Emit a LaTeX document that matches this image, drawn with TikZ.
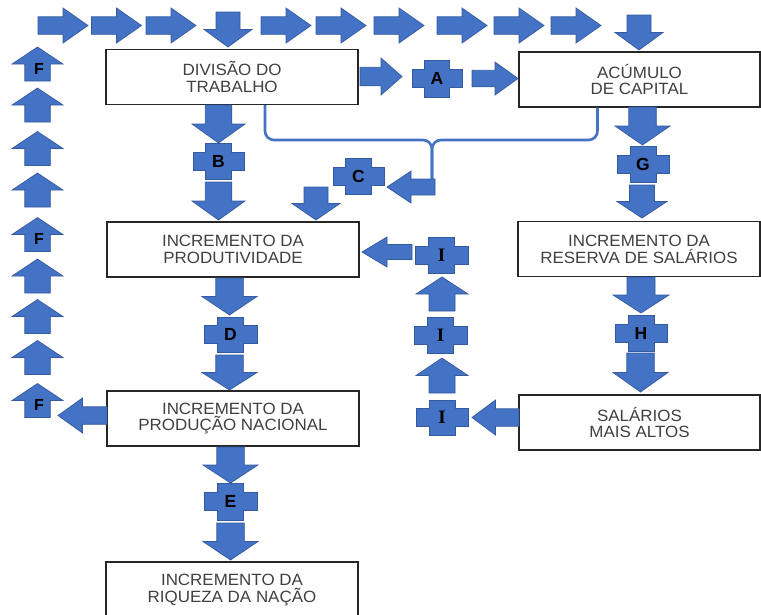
\documentclass[tikz,border=0pt]{standalone}
\usepackage{fontspec}
\setmainfont{Liberation Sans}
\newfontfamily\boxfont[FakeStretch=1.04]{Liberation Sans}
\newfontfamily\serifletter{Liberation Serif}
\usetikzlibrary{positioning, calc}
\definecolor{arrowblue}{RGB}{68,114,196}
\definecolor{arrowedge}{RGB}{52,90,160}
\definecolor{textgray}{RGB}{64,64,64}

\begin{document}
\begin{tikzpicture}[x=1pt, y=-1pt,
        box/.style={rectangle, draw=black!85, line width=1.3pt, fill=white, minimum width=252pt, minimum height=55pt, inner sep=0pt, align=center, text=textgray, font=\boxfont\fontsize{16.3}{16.8}\selectfont},
        letter/.style={inner sep=0pt, text=black, font=\bfseries\fontsize{17.5}{17.5}\selectfont},
        fletter/.style={inner sep=0pt, text=black, font=\bfseries\fontsize{16}{16}\selectfont},
        bracket/.style={draw=arrowblue, line width=2.6pt, rounded corners=9pt},
        pics/barrow/.style 2 args={code={
            \filldraw[fill=arrowblue, draw=arrowedge, line width=0.7pt]
                (-#1/2,-#2/4) -- (0,-#2/4) -- (0,-#2/2) -- (#1/2,0) -- (0,#2/2) -- (0,#2/4) -- (-#1/2,#2/4) -- cycle;
            \coordinate (-tail) at (-#1/2,0);
        }},
        pics/plus/.style n args={3}{code={
            \filldraw[fill=arrowblue, draw=arrowedge, line width=0.7pt]
                (-#1/2,-#2/4) -- (-#1/4,-#2/4) -- (-#1/4,-#2/2) -- (#1/4,-#2/2) -- (#1/4,-#2/4) -- (#1/2,-#2/4)
                -- (#1/2,#2/4) -- (#1/4,#2/4) -- (#1/4,#2/2) -- (-#1/4,#2/2) -- (-#1/4,#2/4) -- (-#1/2,#2/4) -- cycle;
            \node[letter] (-lbl) {#3};
        }}
    ]
        \clip (0,0) rectangle (761,614);

        \node[box] (div) at (232,77) {DIVISÃO DO\\TRABALHO};
        \node[box, minimum width=241pt] (acu) at (639.5,79.5) {ACÚMULO\\DE CAPITAL};
        \node[box] (prod) at (233,249.5) {INCREMENTO DA\\PRODUTIVIDADE};
        \node[box, minimum width=242pt] (res) at (639,249) {INCREMENTO DA\\RESERVA DE SALÁRIOS};
        \node[box] (pnac) at (233,418.5) {INCREMENTO DA\\PRODUÇÃO NACIONAL};
        \node[box, minimum width=241pt] (sal) at (639.5,422.5) {SALÁRIOS\\MAIS ALTOS};
        \node[box, minimum height=56pt] (riq) at (232,590) {INCREMENTO DA\\RIQUEZA DA NAÇÃO};

        \pic (t1) at (63,25.5) {barrow={50}{35}};
        \pic (t2) at (116.5,25.5) {barrow={50}{35}};
        \pic (t3) at (171,25.5) {barrow={50}{35}};
        \pic[rotate=-90] (t4) at (228,29.5) {barrow={35}{48}};
        \pic (t5) at (286,25.5) {barrow={50}{35}};
        \pic (t6) at (341,25.5) {barrow={50}{35}};
        \pic (t7) at (399,25.5) {barrow={50}{35}};
        \pic (t8) at (462,25.5) {barrow={50}{35}};
        \pic (t9) at (519,25.5) {barrow={50}{35}};
        \pic (t10) at (576,25.5) {barrow={50}{35}};
        \pic[rotate=-90] (t11) at (639,32.5) {barrow={35}{48}};

        \pic[rotate=90] (f1) at (37.5,64) {barrow={34}{51}};
        \pic[rotate=90] (f2) at (37.5,105) {barrow={34}{51}};
        \pic[rotate=90] (f3) at (37.5,148.5) {barrow={34}{51}};
        \pic[rotate=90] (f4) at (37.5,190) {barrow={34}{51}};
        \pic[rotate=90] (f5) at (37.5,234.5) {barrow={34}{51}};
        \pic[rotate=90] (f6) at (37.5,276) {barrow={34}{51}};
        \pic[rotate=90] (f7) at (37.5,316.5) {barrow={34}{51}};
        \pic[rotate=90] (f8) at (37.5,357.5) {barrow={34}{51}};
        \pic[rotate=90] (f9) at (37.5,400.5) {barrow={34}{51}};
        \node[fletter] (fa) at (39,68.5) {F};
        \node[fletter] (fb) at (39,238.5) {F};
        \node[fletter] (fc) at (39,404.5) {F};
        \pic[rotate=180] (pf) at (82.5,415.5) {barrow={49}{35}};

        \pic (a1) at (381,76.5) {barrow={42}{37}};
        \pic (pa) at (437,78.5) {plus={50}{37}{A}};
        \pic (a2) at (495,78.5) {barrow={46}{33}};

        \pic[rotate=-90] (b1) at (218.5,124) {barrow={38}{53}};
        \pic (pb) at (218.5,161) {plus={51}{36}{B}};
        \pic[rotate=-90] (b2) at (218.5,201) {barrow={38}{53}};

        \coordinate (brtip) at (432,140);
        \draw[bracket] ([xshift=33pt]div.south) |- (brtip) -- (432,185);
        \draw[bracket] ([xshift=-42pt]acu.south) |- (brtip) -- (432,185);
        \pic[rotate=180] (c1) at (411,187) {barrow={48}{32}};
        \pic (pc) at (358.5,176) {plus={51}{36}{C}};
        \pic[rotate=-90] (c2) at (316,203.5) {barrow={33}{48}};

        \pic[rotate=-90] (d1) at (229.5,296.5) {barrow={37}{55}};
        \pic (pd) at (230.5,334.5) {plus={53}{35}{D}};
        \pic[rotate=-90] (d2) at (229.5,372.5) {barrow={35}{55}};

        \pic[rotate=-90] (e1) at (230.5,465) {barrow={36}{55}};
        \pic (pe) at (230.5,501.5) {plus={53}{37}{E}};
        \pic[rotate=-90] (e2) at (230.5,541.5) {barrow={37}{55}};

        \pic[rotate=-90] (g1) at (642.5,126) {barrow={38}{55}};
        \pic (pg) at (643,164) {plus={52}{36}{G}};
        \pic[rotate=-90] (g2) at (642,201.5) {barrow={33}{50}};

        \pic[rotate=-90] (h1) at (641,295) {barrow={36}{56}};
        \pic (ph) at (641,333) {plus={52}{36}{H}};
        \pic[rotate=-90] (h2) at (640.5,372.5) {barrow={39}{55}};

        \pic[rotate=180] (i1) at (387,252) {barrow={50}{30}};
        \pic (pi1) at (441.5,255) {plus={53}{36}{\serifletter\fontsize{19}{19}\selectfont I}};
        \pic[rotate=90] (i2) at (442,294) {barrow={34}{52}};
        \pic (pi2) at (440.5,335) {plus={53}{36}{\serifletter\fontsize{19}{19}\selectfont I}};
        \pic[rotate=90] (i3) at (442,375.5) {barrow={35}{52}};
        \pic (pi3) at (442,417.5) {plus={52}{35}{\serifletter\fontsize{19}{19}\selectfont I}};
        \pic[rotate=180] (i4) at (495.5,417.5) {barrow={47}{35}};
    \end{tikzpicture}
\end{document}
